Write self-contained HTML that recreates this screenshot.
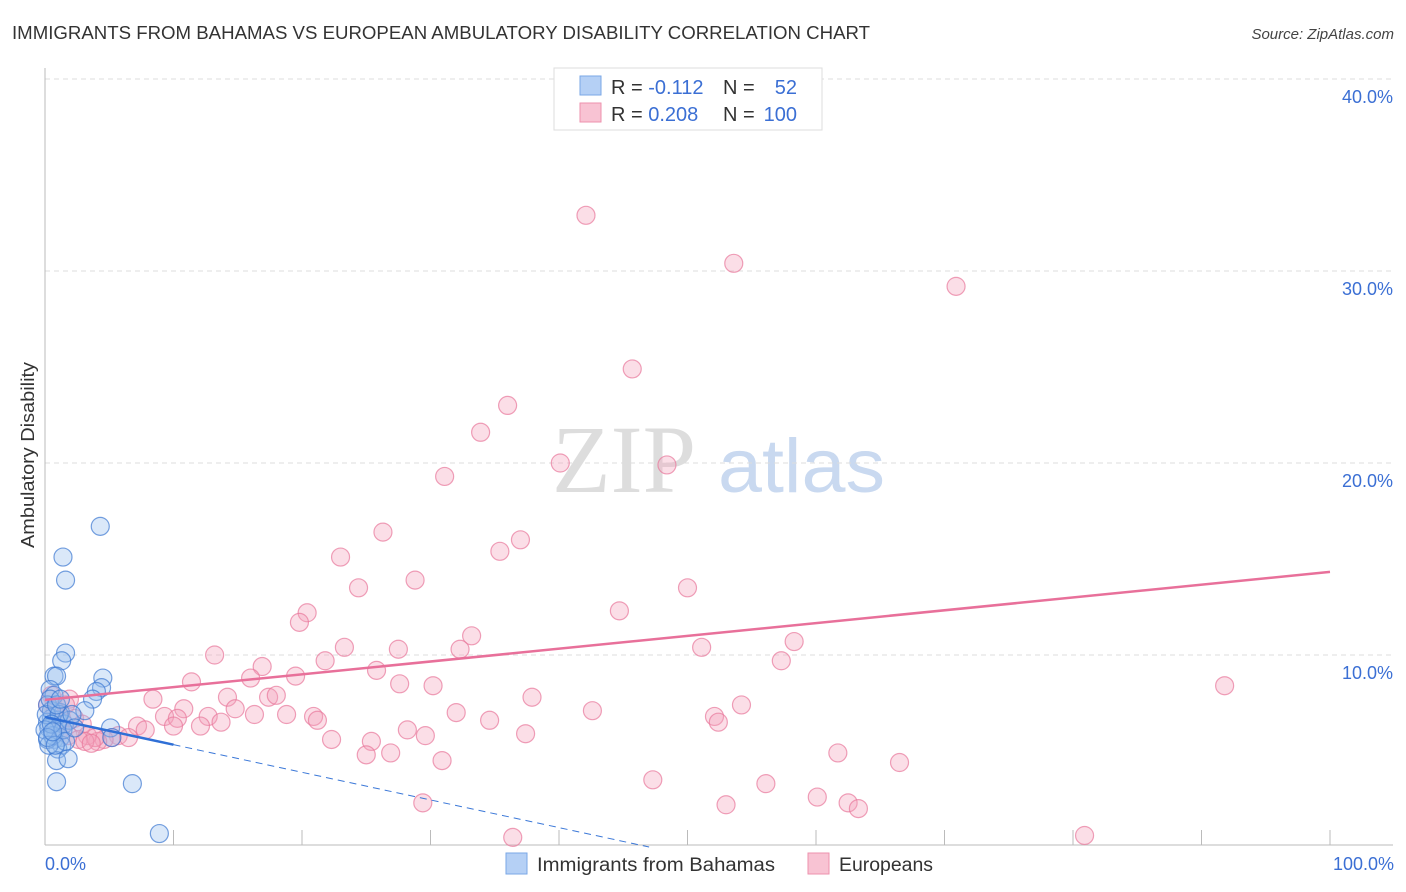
<!DOCTYPE html>
<html><head><meta charset="utf-8"><style>
body{margin:0;background:#fff;font-family:"Liberation Sans",sans-serif;}
svg{display:block}
</style></head><body>
<svg id="chart" width="1406" height="892" xmlns="http://www.w3.org/2000/svg">
<text x="12" y="39" font-size="18" fill="#333" textLength="858" lengthAdjust="spacingAndGlyphs">IMMIGRANTS FROM BAHAMAS VS EUROPEAN AMBULATORY DISABILITY CORRELATION CHART</text>
<text x="1394" y="39" font-size="15" font-style="italic" fill="#444" text-anchor="end">Source: ZipAtlas.com</text>
<g>
<text x="552" y="492" font-family="Liberation Serif,serif" font-size="96" fill="#ddd">ZIP</text>
<text x="718" y="492" font-size="76" fill="#c9d9f0" textLength="167" lengthAdjust="spacingAndGlyphs">atlas</text>
</g>
<g id="grid"></g>
<g id="axes"></g>
<g id="pink"></g>
<g id="blue"></g>
<g id="lines"></g>
<text transform="translate(34,455) rotate(-90)" font-size="18" fill="#333" text-anchor="middle" textLength="186" lengthAdjust="spacingAndGlyphs">Ambulatory Disability</text>
<text x="45" y="870" font-size="18" fill="#3b6fd4">0.0%</text>
<text x="1394" y="870" font-size="18" fill="#3b6fd4" text-anchor="end">100.0%</text>
<g>
<rect x="554" y="68" width="268" height="62" fill="#fff" stroke="#ddd"/>
<rect x="580" y="76" width="21" height="19" fill="#b5d0f5" stroke="#7aa7e6"/>
<rect x="580" y="103" width="21" height="19" fill="#f8c3d3" stroke="#ee91ae"/>
<text x="611" y="94" font-size="20" fill="#333">R = <tspan fill="#3b6fd4">-0.112</tspan></text>
<text x="723" y="94" font-size="20" fill="#333">N = </text><text x="797" y="94" font-size="20" fill="#3b6fd4" text-anchor="end">52</text>
<text x="611" y="121" font-size="20" fill="#333">R = <tspan fill="#3b6fd4">0.208</tspan></text>
<text x="723" y="121" font-size="20" fill="#333">N = </text><text x="797" y="121" font-size="20" fill="#3b6fd4" text-anchor="end">100</text>
</g>
<g>
<rect x="506" y="853" width="21" height="21" fill="#b5d0f5" stroke="#7aa7e6"/>
<text x="537" y="871" font-size="19" fill="#333" textLength="238" lengthAdjust="spacingAndGlyphs">Immigrants from Bahamas</text></g>
<g>
<rect x="808" y="853" width="21" height="21" fill="#f8c3d3" stroke="#ee91ae"/>
<text x="839" y="871" font-size="19" fill="#333" textLength="94" lengthAdjust="spacingAndGlyphs">Europeans</text></g>
</svg>
<script>
const yTicks=[10,20,30,40];
const yTickLabels=["10.0%","20.0%","30.0%","40.0%"];
const xTicks=[0,10,20,30,40,50,60,70,80,90,100];
const pinkX=[42.1,53.6,70.9,45.7,36.0,33.9,40.1,48.4,31.1,26.3,37.0,35.4,23.0,28.8,50.0,24.4,20.4,44.7,19.8,33.2,58.3,23.3,32.3,51.1,21.8,13.2,16.9,57.3,25.8,91.8,19.5,16.0,11.4,27.5,27.6,30.2,37.9,8.4,14.2,17.4,18.0,54.2,10.8,14.8,9.3,42.6,32.0,20.9,18.8,16.3,12.7,10.3,52.1,13.7,21.2,12.1,34.6,52.4,28.2,29.6,37.4,7.2,7.8,10.0,22.3,25.4,5.7,5.2,4.6,26.9,25.0,61.7,4.1,6.5,30.9,66.5,47.3,56.1,29.4,53.0,60.1,62.5,63.3,36.4,80.9,1.9,1.3,0.8,2.3,2.9,3.3,3.9,1.2,1.8,2.6,3.1,3.6,0.5,0.2,1.6];
const pinkY=[32.9,30.4,29.2,24.9,23.0,21.6,20.0,19.9,19.3,16.4,16.0,15.4,15.1,13.9,13.5,13.5,12.2,12.3,11.7,11.0,10.7,10.4,10.3,10.4,9.7,10.0,9.4,9.7,9.2,8.4,8.9,8.8,8.6,10.3,8.5,8.4,7.8,7.7,7.8,7.8,7.9,7.4,7.2,7.2,6.8,7.1,7.0,6.8,6.9,6.9,6.8,6.7,6.8,6.5,6.6,6.3,6.6,6.5,6.1,5.8,5.9,6.3,6.1,6.3,5.6,5.5,5.8,5.7,5.6,4.9,4.8,4.9,5.5,5.7,4.5,4.4,3.5,3.3,2.3,2.2,2.6,2.3,2.0,0.5,0.6,7.7,6.7,7.1,6.7,6.4,5.8,5.7,6.1,5.8,5.6,5.5,5.4,7.9,7.4,7.4];
const blueX=[4.3,1.4,1.6,1.6,1.3,4.5,0.7,0.9,4.4,4.0,3.7,0.4,0.7,3.1,0.2,1.2,0.5,1.0,0.2,0.3,0.8,1.5,1.9,5.1,5.2,1.2,0.7,1.3,1.0,0.9,1.8,0.9,6.8,8.9,0.2,0.5,0.1,0.4,0.6,1.1,1.4,1.6,2.1,2.3,0.0,0.3,0.5,0.2,0.9,1.2,0.8,0.6];
const blueY=[16.7,15.1,13.9,10.1,9.7,8.8,8.9,8.9,8.3,8.1,7.7,8.2,7.9,7.1,7.4,7.0,6.7,6.6,6.5,6.2,6.1,6.4,6.6,6.2,5.7,5.7,5.6,5.3,5.1,4.5,4.6,3.4,3.3,0.7,5.6,7.1,6.9,7.7,5.8,6.9,6.1,5.5,6.9,6.2,6.1,5.3,6.4,5.7,7.4,7.7,5.3,6.0];
const pinkTrend=[7.66,14.33];
const blueTrend=[6.77,-0.144]; // intercept, slope
const NS="http://www.w3.org/2000/svg";
const X=v=>45+v*12.85, Y=v=>847-v*19.2;
function mk(tag,attrs,parent){const e=document.createElementNS(NS,tag);for(const k in attrs)e.setAttribute(k,attrs[k]);parent.appendChild(e);return e;}
const grid=document.getElementById('grid'),axes=document.getElementById('axes');
yTicks.forEach((t,i)=>{
 const l=mk('line',{x1:45,x2:1393,y1:Y(t),y2:Y(t),stroke:'#ddd','stroke-dasharray':'5,4'},grid);
 
 
 const tx=mk('text',{x:1393,y:Y(t)+24,'font-size':18,fill:'#3b6fd4','text-anchor':'end'},axes);
 tx.textContent=yTickLabels[i];
 
 
});
const ya=mk('line',{x1:45,x2:45,y1:68,y2:845,stroke:'#bbb'},axes);


const xa=mk('line',{x1:45,x2:1393,y1:845,y2:845,stroke:'#bbb'},axes);


xTicks.forEach(t=>{
 const l=mk('line',{x1:X(t),x2:X(t),y1:830,y2:845,stroke:'#bbb'},axes);
 
 
});
const pg=document.getElementById('pink');
pinkX.forEach((v,i)=>{
 const c=mk('circle',{cx:X(v),cy:Y(pinkY[i]),r:9,fill:'rgba(244,160,187,0.35)',stroke:'rgba(232,120,155,0.7)','stroke-width':1.2},pg);
 
 
});
const bg=document.getElementById('blue');
blueX.forEach((v,i)=>{
 const c=mk('circle',{cx:X(v),cy:Y(blueY[i]),r:9,fill:'rgba(150,188,238,0.35)',stroke:'rgba(60,120,210,0.7)','stroke-width':1.2},bg);
 
 
});
const lg=document.getElementById('lines');
const pl=mk('line',{x1:X(0),y1:Y(pinkTrend[0]),x2:X(100),y2:Y(pinkTrend[1]),stroke:'#e8709a','stroke-width':2.5},lg);


const bEnd=-blueTrend[0]/blueTrend[1];
const bd=mk('line',{x1:X(10),y1:Y(blueTrend[0]+blueTrend[1]*10),x2:X(bEnd),y2:Y(0),stroke:'#3b78d8','stroke-width':1,'stroke-dasharray':'7,5'},lg);


const bl=mk('line',{x1:X(0),y1:Y(blueTrend[0]),x2:X(10),y2:Y(blueTrend[0]+blueTrend[1]*10),stroke:'#2f6fd6','stroke-width':2.5},lg);


</script>
</body></html>
